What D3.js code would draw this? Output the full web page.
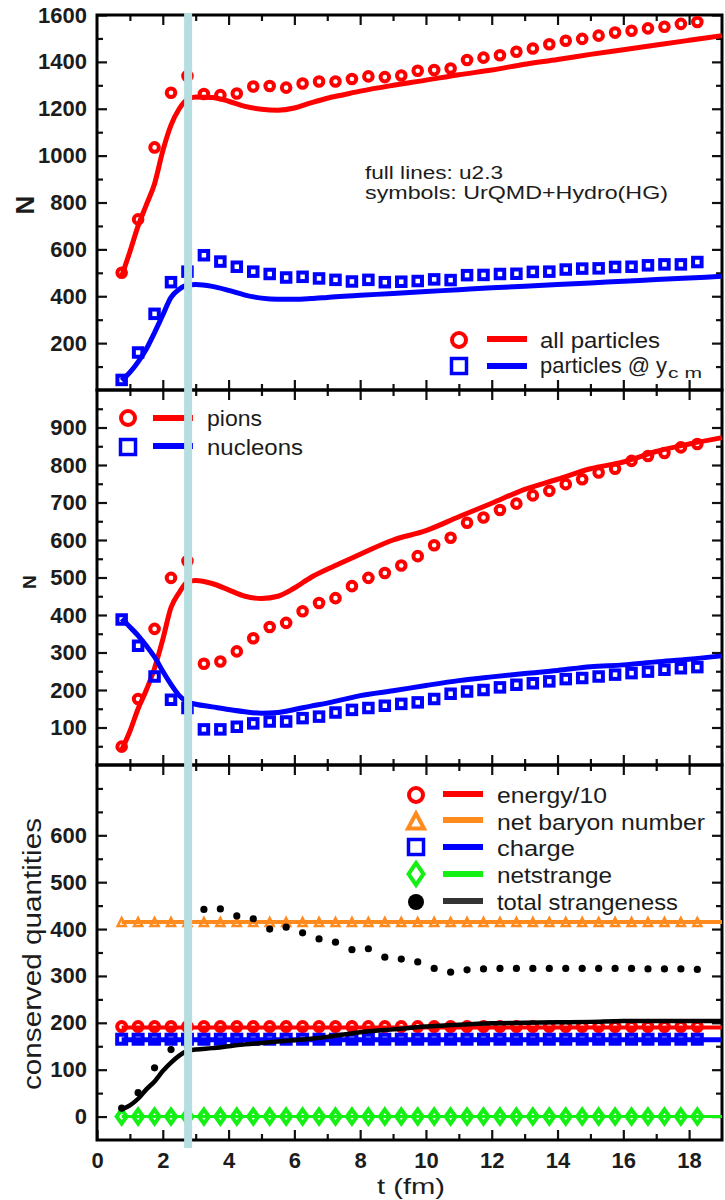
<!DOCTYPE html>
<html><head><meta charset="utf-8">
<script src="https://cdn.jsdelivr.net/npm/d3@7"></script>
<style>
body{margin:0;background:#fff;}
svg{display:block;}
text{font-family:"Liberation Sans",Arial,Helvetica,sans-serif;fill:#1c1c1c;}
</style>
</head><body>
<svg id="c" width="725" height="1200"></svg>
<script>
// ---------------- DATA ----------------
const tSym = [0.75,1.25,1.75,2.25,2.75,3.25,3.75,4.25,4.75,5.25,5.75,6.25,6.75,7.25,7.75,8.25,8.75,9.25,9.75,10.25,10.75,11.25,11.75,12.25,12.75,13.25,13.75,14.25,14.75,15.25,15.75,16.25,16.75,17.25,17.75,18.25];
const tLine = [0.75,1,1.25,1.5,1.75,2,2.25,2.5,2.75,3,3.5,4,4.5,5,5.5,6,6.5,7,7.5,8,9,10,11,12,13,14,15,16,17,18,19];

// panel 1: all particles / particles at y_cm
const allPartSym = [500,728,1035,1268,1340,1263,1258,1265,1295,1297,1290,1308,1316,1316,1327,1338,1335,1342,1362,1365,1372,1408,1418,1428,1443,1457,1475,1490,1498,1512,1525,1533,1543,1550,1562,1570];
const ycmSym = [43,160,325,460,505,575,548,526,505,495,480,483,476,470,463,470,460,462,465,472,469,490,491,495,496,504,505,514,518,519,525,526,532,536,536,546];
const allPartLine = [485,590,700,790,880,1020,1130,1200,1240,1250,1248,1232,1210,1198,1194,1203,1225,1245,1260,1275,1300,1322,1345,1365,1390,1410,1432,1452,1472,1492,1512];
const ycmLine = [40,75,120,175,245,320,395,430,448,450,442,425,405,392,387,387,390,395,400,404,412,420,428,436,443,450,457,464,471,478,485];

// panel 2: pions / nucleons
const pionSym = [49,176,363,499,544,270,276,303,338,368,379,410,432,445,477,499,512,532,557,586,606,646,660,680,697,719,731,749,762,780,790,811,824,832,847,856];
const nucSym = [388,318,236,174,152,95,95,102,111,116,116,125,129,140,147,152,158,163,167,176,190,196,200,207,214,218,223,229,232,236,241,245,249,254,258,261];
const pionLine = [40,90,150,200,258,335,420,460,488,492,484,467,450,444,450,472,500,522,542,562,600,625,662,698,735,762,790,808,836,856,873];
const nucLine = [390,368,345,318,288,250,215,185,168,162,155,148,142,138,140,148,157,165,175,185,198,212,225,235,244,252,262,267,275,282,291];

// panel 3: conserved quantities
const energySym = [192,192,192,192,192,192,192,192,192,192,192,192,192,192,192,192,192,192,192,192,192,192,192,192,192,192,192,192,192,192,192,192,192,192,192,192];
const baryonSym = [415,415,415,415,415,415,415,415,415,415,415,415,415,415,415,415,415,415,415,415,415,415,415,415,415,415,415,415,415,415,415,415,415,415,415,415];
const chargeSym = [165,165,165,165,165,165,165,165,165,165,165,165,165,165,165,165,165,165,165,165,165,165,165,165,165,165,165,165,165,165,165,165,165,165,165,165];
const netStrSym = [0,0,0,0,0,0,0,0,0,0,0,0,0,0,0,0,0,0,0,0,0,0,0,0,0,0,0,0,0,0,0,0,0,0,0,0];
const totStrSym = [18,51,104,143,150,442,443,428,422,400,404,392,379,372,356,358,340,336,330,316,308,313,315,316,316,316,316,316,316,316,316,316,315,315,315,314];
const tConst = [0.75,19];
const energyLine = [190,190];
const baryonLine = [415,415];
const chargeLine = [164,164];
const netStrLine = [0,0];
const totStrLine = [15,24,38,58,75,97,115,130,140,143,146,150,154,157,160,163,166,170,175,180,186,192,196,199,200,201,202,204,204,204,204];

// ticks
const xLabelTicks = [0,2,4,6,8,10,12,14,16,18];
const xMinorTicks = [1,3,5,7,9,11,13,15,17];
const p1Labels = [200,400,600,800,1000,1200,1400,1600];
const p1Minor = [100,300,500,700,900,1100,1300,1500];
const p2Labels = [100,200,300,400,500,600,700,800,900];
const p2Minor = [50,150,250,350,450,550,650,750,850,950];
const p3Labels = [0,100,200,300,400,500,600];
const p3Minor = [50,150,250,350,450,550,650,700];
const markT = 2.77;

// ---------------- DRAW ----------------
const svg = d3.select('#c');
const X0 = 97, X1 = 722;
const x = d3.scaleLinear().domain([0,19]).range([X0,X1]);
const RED='#ff0000', BLUE='#0000ff', ORANGE='#ff8a1e', GREEN='#14f014', BLACK='#000';

const panels = [
  {top:15, bottom:390, y:d3.scaleLinear().domain([0,1600]).range([390,15]), labels:p1Labels, minor:p1Minor},
  {top:390, bottom:765, y:d3.scaleLinear().domain([0,1000]).range([765,390]), labels:p2Labels, minor:p2Minor},
  {top:765, bottom:1140, y:d3.scaleLinear().domain([-50,750]).range([1140,765]), labels:p3Labels, minor:p3Minor}
];

function styleAxis(g){
  g.select('.domain').remove();
  g.selectAll('.tick line').attr('stroke','#111').attr('stroke-width',2.2);
  g.selectAll('.tick text').attr('font-size',22).attr('font-weight','bold')
    .attr('fill','#222').style('font-family','"Liberation Sans",Arial,sans-serif');
}

panels.forEach((p,i)=>{
  const g = svg.append('g');
  g.append('g').attr('transform',`translate(${X0},0)`)
    .call(d3.axisLeft(p.y).tickValues(p.labels).tickSize(-10).tickPadding(10).tickFormat(d3.format('d'))).call(styleAxis);
  g.append('g').attr('transform',`translate(${X0},0)`)
    .call(d3.axisLeft(p.y).tickValues(p.minor).tickSize(-6).tickFormat('')).call(styleAxis);
  g.append('g').attr('transform',`translate(${X1},0)`)
    .call(d3.axisRight(p.y).tickValues(p.labels).tickSize(-10).tickFormat('')).call(styleAxis);
  g.append('g').attr('transform',`translate(${X1},0)`)
    .call(d3.axisRight(p.y).tickValues(p.minor).tickSize(-6).tickFormat('')).call(styleAxis);
  g.append('g').attr('transform',`translate(0,${p.top})`)
    .call(d3.axisTop(x).tickValues(xLabelTicks.slice(1)).tickSize(-10).tickFormat('')).call(styleAxis);
  g.append('g').attr('transform',`translate(0,${p.top})`)
    .call(d3.axisTop(x).tickValues(xMinorTicks).tickSize(-6).tickFormat('')).call(styleAxis);
  g.append('g').attr('transform',`translate(0,${p.bottom})`)
    .call(d3.axisBottom(x).tickValues(i===2?xLabelTicks:xLabelTicks.slice(1)).tickSize(-10).tickPadding(12)
      .tickFormat(i===2?d3.format('d'):'')).call(styleAxis);
  g.append('g').attr('transform',`translate(0,${p.bottom})`)
    .call(d3.axisBottom(x).tickValues(xMinorTicks).tickSize(-6).tickFormat('')).call(styleAxis);
  svg.append('rect').attr('x',X0).attr('y',p.top).attr('width',X1-X0).attr('height',p.bottom-p.top)
    .attr('fill','none').attr('stroke','#000').attr('stroke-width',3);
});

function drawLine(ts, vs, y, color, w){
  const line = d3.line().x(d=>x(d[0])).y(d=>y(d[1])).curve(d3.curveMonotoneX);
  svg.append('path').datum(ts.map((t,k)=>[t,vs[k]])).attr('d',line)
    .attr('fill','none').attr('stroke',color).attr('stroke-width',w).attr('stroke-linejoin','round');
}
function drawCircles(ts, vs, y, color, r, sw){
  svg.append('g').selectAll('circle').data(ts.map((t,k)=>[t,vs[k]])).join('circle')
    .attr('cx',d=>x(d[0])).attr('cy',d=>y(d[1])).attr('r',r)
    .attr('fill','none').attr('stroke',color).attr('stroke-width',sw);
}
function drawSquares(ts, vs, y, color, s, sw){
  svg.append('g').selectAll('rect').data(ts.map((t,k)=>[t,vs[k]])).join('rect')
    .attr('x',d=>x(d[0])-s/2).attr('y',d=>y(d[1])-s/2).attr('width',s).attr('height',s)
    .attr('fill','none').attr('stroke',color).attr('stroke-width',sw);
}
function drawSymbol(ts, vs, y, pathFn, color, sw, fill){
  svg.append('g').selectAll('path').data(ts.map((t,k)=>[t,vs[k]])).join('path')
    .attr('transform',d=>`translate(${x(d[0])},${y(d[1])})`).attr('d',pathFn)
    .attr('fill',fill||'none').attr('stroke',color).attr('stroke-width',sw);
}
const triPath = (w,h)=>`M0,${-h/2}L${w/2},${h/2}L${-w/2},${h/2}Z`;
const diaPath = (w,h)=>`M0,${-h/2}L${w/2},0L0,${h/2}L${-w/2},0Z`;

// panel 1
const P1=panels[0].y, P2=panels[1].y, P3=panels[2].y;
drawLine(tLine, allPartLine, P1, RED, 5);
drawLine(tLine, ycmLine, P1, BLUE, 5);
drawCircles(tSym, allPartSym, P1, RED, 4.3, 4);
drawSquares(tSym, ycmSym, P1, BLUE, 8.5, 4);
// panel 2
drawLine(tLine, pionLine, P2, RED, 5);
drawLine(tLine, nucLine, P2, BLUE, 5);
drawCircles(tSym, pionSym, P2, RED, 4.3, 4);
drawSquares(tSym, nucSym, P2, BLUE, 8.5, 4);
// panel 3
drawLine(tConst, baryonLine, P3, ORANGE, 4);
drawLine(tConst, energyLine, P3, RED, 4);
drawLine(tConst, chargeLine, P3, BLUE, 5);
drawLine(tConst, netStrLine, P3, GREEN, 3);
drawSymbol(tSym, baryonSym, P3, ()=>triPath(8,8), ORANGE, 2.5);
drawCircles(tSym, energySym, P3, RED, 4.5, 4);
drawSquares(tSym, chargeSym, P3, BLUE, 9, 4);
drawSymbol(tSym, netStrSym, P3, ()=>diaPath(10,14), GREEN, 4);
drawLine(tLine, totStrLine, P3, BLACK, 4.5);
svg.append('g').selectAll('circle').data(tSym.map((t,k)=>[t,totStrSym[k]])).join('circle')
  .attr('cx',d=>x(d[0])).attr('cy',d=>P3(d[1])).attr('r',3.6).attr('fill',BLACK);

// ---------------- TEXT / LEGENDS ----------------
function txt(s, xx, yy, size, opts={}){
  const t = svg.append('text').attr('x',xx).attr('y',yy).attr('font-size',size).text(s);
  if(opts.len) t.attr('textLength',opts.len).attr('lengthAdjust','spacingAndGlyphs');
  if(opts.weight) t.attr('font-weight',opts.weight);
  if(opts.anchor) t.attr('text-anchor',opts.anchor);
  if(opts.rotate) t.attr('transform',`rotate(-90,${xx},${yy})`);
  return t;
}
// axis titles
txt('N', 25, 205, 26, {weight:'bold', anchor:'middle', rotate:true}).attr('dy','0.35em');
txt('N', 29, 582, 19, {weight:'bold', anchor:'middle', rotate:true}).attr('dy','0.35em');
txt('conserved quantities', 32, 954, 26, {anchor:'middle', rotate:true, len:272}).attr('dy','0.35em');
txt('t (fm)', 411, 1194, 22, {anchor:'middle', len:68});

// panel 1 notes
txt('full lines: u2.3', 365, 179, 18, {len:138});
txt('symbols: UrQMD+Hydro(HG)', 365, 199, 18, {len:303});

function legLine(x1,x2,yy,color,w){
  svg.append('line').attr('x1',x1).attr('x2',x2).attr('y1',yy).attr('y2',yy).attr('stroke',color).attr('stroke-width',w);
}
function legCircle(cx,cy,color){
  svg.append('circle').attr('cx',cx).attr('cy',cy).attr('r',7).attr('fill','none').attr('stroke',color).attr('stroke-width',4);
}
function legSquare(cx,cy,color){
  svg.append('rect').attr('x',cx-7.5).attr('y',cy-7.5).attr('width',15).attr('height',15).attr('fill','none').attr('stroke',color).attr('stroke-width',3.5);
}
// panel 1 legend
legCircle(459,340,RED); legLine(487,527,339,RED,6); txt('all particles',540,348,22,{len:120});
legSquare(459,366,BLUE); legLine(487,527,366,BLUE,6); txt('particles @ y',540,373,22,{len:127});
txt('c m',668,378,14,{len:34});
// panel 2 legend
legCircle(128,418,RED); legLine(153,193,418,RED,6); txt('pions',207,426,22,{len:55});
legSquare(128,447,BLUE); legLine(153,193,446,BLUE,6); txt('nucleons',207,455,22,{len:96});
// panel 3 legend
legCircle(416,795,RED); legLine(443,483,794,RED,6); txt('energy/10',497,803,22,{len:110});
svg.append('path').attr('transform','translate(416,821)').attr('d',triPath(16,15)).attr('fill','none').attr('stroke',ORANGE).attr('stroke-width',4);
legLine(443,483,820,ORANGE,6); txt('net baryon number',497,830,22,{len:208});
legSquare(416,847,BLUE); legLine(443,483,847,BLUE,6); txt('charge',497,856,22,{len:78});
svg.append('path').attr('transform','translate(416,874)').attr('d',diaPath(15,22)).attr('fill','none').attr('stroke',GREEN).attr('stroke-width',4);
legLine(443,483,874,GREEN,6); txt('netstrange',497,883,22,{len:115});
svg.append('circle').attr('cx',416).attr('cy',902).attr('r',8).attr('fill',BLACK);
legLine(443,483,901,'#333',6); txt('total strangeness',497,910,22,{len:181});

// cyan marker band
svg.append('rect').attr('x',x(markT)-4).attr('y',13).attr('width',8).attr('height',1135).attr('fill','#b5dee0');
</script>
</body></html>
